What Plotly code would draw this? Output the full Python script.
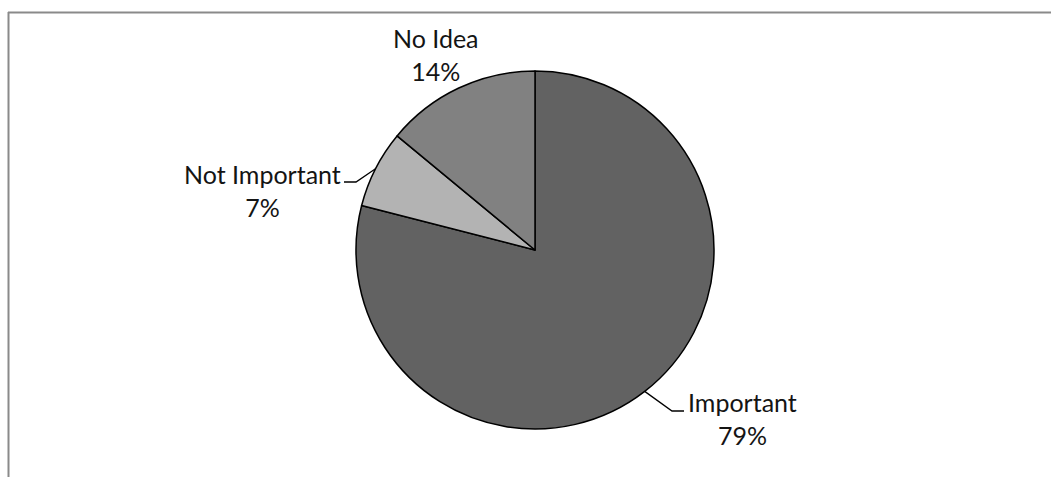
import math
import plotly.graph_objects as go

# Survey answers
labels = ["Important", "Not Important", "No Idea"]
values = [79, 7, 14]
colors = ["#626262", "#b3b3b3", "#818181"]

W, H = 1051, 477
CX, CY, R = 535, 250, 179  # pie centre / radius in pixels

# label block centres (pixels) and leader line elbow/end points
label_pos = {
    "Important": (742, 418),
    "Not Important": (262, 190),
    "No Idea": (436, 54),
}
leaders = {
    "Important": [(672, 411), (684, 411)],
    "Not Important": [(356, 182), (344, 182)],
}

fig = go.Figure()

fig.add_trace(go.Pie(
    labels=labels,
    values=values,
    sort=False,
    direction="clockwise",
    rotation=0,
    marker=dict(colors=colors, line=dict(color="#000000", width=1.5)),
    textinfo="none",
    hoverinfo="label+percent",
    showlegend=False,
    domain=dict(x=[(CX - R) / W, (CX + R) / W],
                y=[(H - CY - R) / H, (H - CY + R) / H]),
))

total = sum(values)
shapes = []
annotations = []
cum = 0.0
for lab, val in zip(labels, values):
    mid = (cum + val / 2) / total * 2 * math.pi
    cum += val
    pct = round(val / total * 100)
    lx, ly = label_pos[lab]
    annotations.append(dict(
        x=lx, y=ly, xref="x", yref="y",
        text=f"{lab}<br>{pct}%", showarrow=False,
        xanchor="center", yanchor="middle",
        font=dict(family="Lato, 'Liberation Sans', sans-serif", size=25, color="#141414"),
        align="center",
    ))
    if lab in leaders:
        px = CX + R * math.sin(mid)
        py = CY - R * math.cos(mid)
        pts = [(px, py)] + leaders[lab]
        path = "M " + " L ".join(f"{x:.1f},{y:.1f}" for x, y in pts)
        shapes.append(dict(type="path", path=path, xref="x", yref="y",
                           line=dict(color="#000000", width=1.3)))

# chart area frame (top and left edges)
shapes.append(dict(type="line", xref="x", yref="y", x0=8, y0=12.5, x1=W + 5, y1=12.5,
                   line=dict(color="#8a8a8a", width=2)))
shapes.append(dict(type="line", xref="x", yref="y", x0=8.5, y0=12, x1=8.5, y1=H + 5,
                   line=dict(color="#8a8a8a", width=2)))

fig.update_layout(
    width=W, height=H,
    margin=dict(l=0, r=0, t=0, b=0),
    paper_bgcolor="white", plot_bgcolor="rgba(0,0,0,0)",
    xaxis=dict(range=[0, W], visible=False, fixedrange=True),
    yaxis=dict(range=[H, 0], visible=False, fixedrange=True),
    shapes=shapes,
    annotations=annotations,
)

fig.write_html("out.html")
